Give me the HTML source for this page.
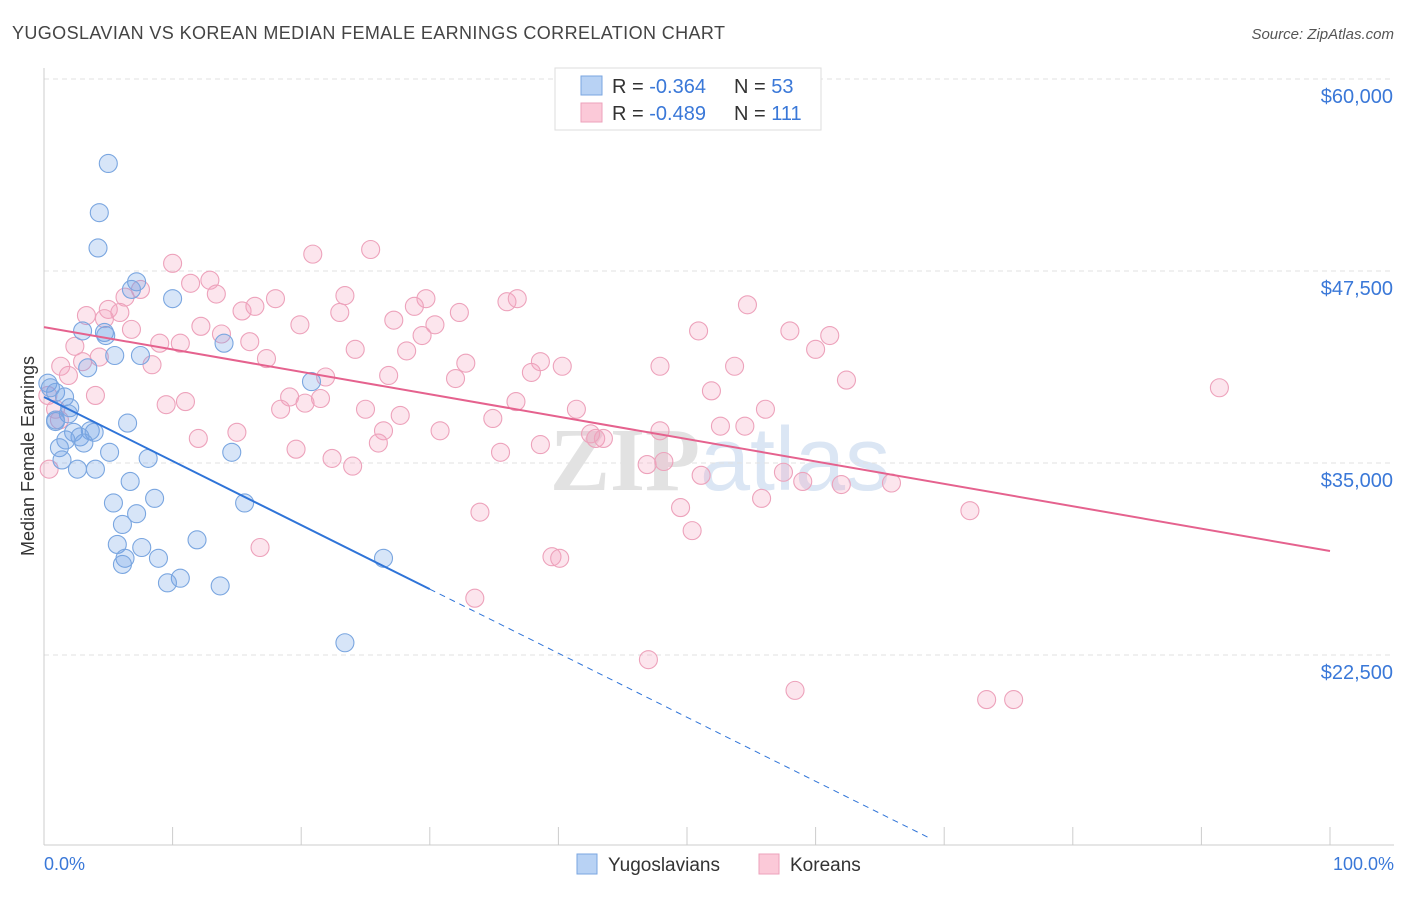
<!DOCTYPE html>
<html><head><meta charset="utf-8"><style>
body{margin:0;background:#fff;font-family:"Liberation Sans",sans-serif;}
svg text{font-family:"Liberation Sans",sans-serif;}
</style></head><body>
<svg id="chart" width="1406" height="892">
<text x="12" y="39" font-size="18" fill="#444" textLength="713" lengthAdjust="spacing">YUGOSLAVIAN VS KOREAN MEDIAN FEMALE EARNINGS CORRELATION CHART</text>
<text x="1394" y="39" font-size="15" fill="#555" text-anchor="end" font-style="italic">Source: ZipAtlas.com</text>
<text x="720" y="490" font-size="90" fill="#e6e6e6" text-anchor="middle" font-weight="bold"><tspan fill="#e2e2e2" font-family="Liberation Serif">ZIP</tspan><tspan fill="#dbe6f4" font-weight="normal">atlas</tspan></text>
<g id="grid"></g>
<g id="axes"></g>
<g id="pts"></g>
<g id="trend"></g>
<text transform="translate(34,456) rotate(-90)" font-size="18" fill="#333" text-anchor="middle">Median Female Earnings</text>
<text x="44" y="870" font-size="18" fill="#3a78d8">0.0%</text>
<text x="1394" y="870" font-size="18" fill="#3a78d8" text-anchor="end">100.0%</text>
<g>
<rect x="555" y="68" width="266" height="62" fill="#fff" stroke="#ddd"/>
<rect x="581" y="76" width="21" height="19" fill="#b8d2f4" stroke="#7aa6e0"/>
<rect x="581" y="103" width="21" height="19" fill="#fbc9d8" stroke="#eda2bb"/>
<text x="612" y="93" font-size="20" fill="#333">R = <tspan fill="#3a78d8">-0.364</tspan><tspan x="734">N = </tspan><tspan fill="#3a78d8">53</tspan></text>
<text x="612" y="120" font-size="20" fill="#333">R = <tspan fill="#3a78d8">-0.489</tspan><tspan x="734">N = </tspan><tspan fill="#3a78d8">111</tspan></text>
</g>
<g>
<rect x="577" y="854" width="20" height="20" fill="#b8d2f4" stroke="#7aa6e0"/>
<text x="608" y="871" font-size="19" fill="#333">Yugoslavians</text>
<rect x="759" y="854" width="20" height="20" fill="#fbc9d8" stroke="#eda2bb"/>
<text x="790" y="871" font-size="19" fill="#333">Koreans</text>
</g>
</svg>
<script>
const yTicks=[60000,47500,35000,22500];
const yTickLabels=["$60,000","$47,500","$35,000","$22,500"];
const xTicks=[0,10,20,30,40,50,60,70,80,90,100];
const blueX=[5.0,4.3,4.2,7.2,6.8,10.0,3.0,4.7,4.8,5.5,7.5,14.0,3.4,20.8,0.3,0.9,1.6,2.0,1.9,0.9,6.5,3.6,2.3,3.9,2.8,1.7,3.1,1.2,5.1,8.1,14.6,1.4,2.6,4.0,6.7,8.6,5.4,7.2,15.6,6.1,11.9,5.7,7.6,6.3,8.9,26.4,6.1,10.6,9.6,13.7,23.4,0.5,0.9];
const blueY=[54500,51300,49000,46800,46300,45700,43600,43500,43300,42000,42000,42800,41200,40300,40200,39600,39300,38600,38200,37700,37600,37100,37000,37000,36700,36500,36300,36000,35700,35300,35700,35200,34600,34600,33800,32700,32400,31700,32400,31000,30000,29700,29500,28800,28800,28800,28400,27500,27200,27000,23300,39900,37800];
const pinkX=[10.0,20.9,25.4,12.9,11.4,7.5,6.3,13.4,18.0,23.4,29.7,36.0,36.8,28.8,54.7,5.0,3.3,5.9,15.4,16.4,23.0,27.2,32.3,4.7,19.9,30.4,6.8,12.2,13.8,16.0,10.6,9.0,50.9,58.0,61.1,29.4,24.2,28.2,60.0,2.4,4.3,17.3,32.8,38.6,40.3,47.9,53.7,8.4,3.0,1.3,1.9,21.9,26.8,32.0,37.9,62.4,91.4,51.9,4.0,19.1,21.5,20.3,9.5,11.0,18.4,25.0,36.7,41.4,56.1,27.7,34.9,1.2,52.6,54.5,12.0,15.0,26.4,30.8,42.9,43.5,47.9,19.6,26.0,35.5,38.6,42.5,22.4,24.0,46.9,48.2,51.1,57.5,59.0,62.0,65.9,0.4,55.8,49.5,72.0,33.9,50.4,16.8,39.5,40.1,33.5,47.0,58.4,73.3,75.4,0.3,0.9];
const pinkY=[48000,48600,48900,46900,46700,46300,45800,46000,45700,45900,45700,45500,45700,45200,45300,45000,44600,44800,44900,45200,44800,44300,44800,44400,44000,44000,43700,43900,43400,42900,42800,42800,43600,43600,43300,43300,42400,42300,42400,42600,41900,41800,41500,41600,41300,41300,41300,41400,41600,41300,40700,40600,40700,40500,40900,40400,39900,39700,39400,39300,39200,38900,38800,39000,38500,38500,39000,38500,38500,38100,37900,37800,37400,37400,36600,37000,37100,37100,36600,36600,37100,35900,36300,35700,36200,36900,35300,34800,34900,35100,34200,34400,33800,33600,33700,34600,32700,32100,31900,31800,30600,29500,28900,28800,26200,22200,20200,19600,19600,39400,38500];
const blueTrend=[39300,-41700];
const pinkTrend=[43850,-14580];
const NS="http://www.w3.org/2000/svg";
const X=v=>44+v*12.86;
const Y=v=>79+(60000-v)/65.1;
function mk(tag,attrs,parent){const e=document.createElementNS(NS,tag);for(const k in attrs)e.setAttribute(k,attrs[k]);document.getElementById(parent).appendChild(e);return e;}
yTicks.forEach((t,i)=>{
 const l=mk('line',{x1:44,x2:1394,y1:Y(t),y2:Y(t),stroke:'#e2e2e2','stroke-dasharray':'5,4'},'grid');
 
 
 const tx=mk('text',{x:1393,y:Y(t)+24,'font-size':20,fill:'#3a78d8','text-anchor':'end'},'grid');
 tx.textContent=yTickLabels[i];
 
 
});
const ax=mk('line',{x1:44,x2:44,y1:68,y2:845,stroke:'#ccc'},'axes');


const bx=mk('line',{x1:44,x2:1394,y1:845,y2:845,stroke:'#ccc'},'axes');


xTicks.forEach(t=>{
 const l=mk('line',{x1:X(t),x2:X(t),y1:827,y2:845,stroke:'#ccc'},'axes');
 
 
});
function pts(xs,ys,fill,stroke,name){xs.forEach((x,i)=>{
 const c=mk('circle',{cx:X(x),cy:Y(ys[i]),r:9,fill:fill,stroke:stroke,'stroke-width':1.1},'pts');
 
 
});}
pts(pinkX,pinkY,'rgba(244,160,190,0.28)','#eda2bb','korean-point');
pts(blueX,blueY,'rgba(110,160,230,0.28)','#7aa6e0','yugoslavian-point');
const tv=(tr,x)=>tr[0]+tr[1]*x/100;
const b1=mk('line',{x1:X(0),y1:Y(tv(blueTrend,0)),x2:X(30),y2:Y(tv(blueTrend,30)),stroke:'#2f74d8','stroke-width':2},'trend');


const b2=mk('line',{x1:X(30),y1:Y(tv(blueTrend,30)),x2:X(69),y2:Y(tv(blueTrend,69)),stroke:'#2f74d8','stroke-width':1,'stroke-dasharray':'6,5'},'trend');


const p1=mk('line',{x1:X(0),y1:Y(tv(pinkTrend,0)),x2:X(100),y2:Y(tv(pinkTrend,100)),stroke:'#e5628e','stroke-width':2},'trend');


</script>
</body></html>
